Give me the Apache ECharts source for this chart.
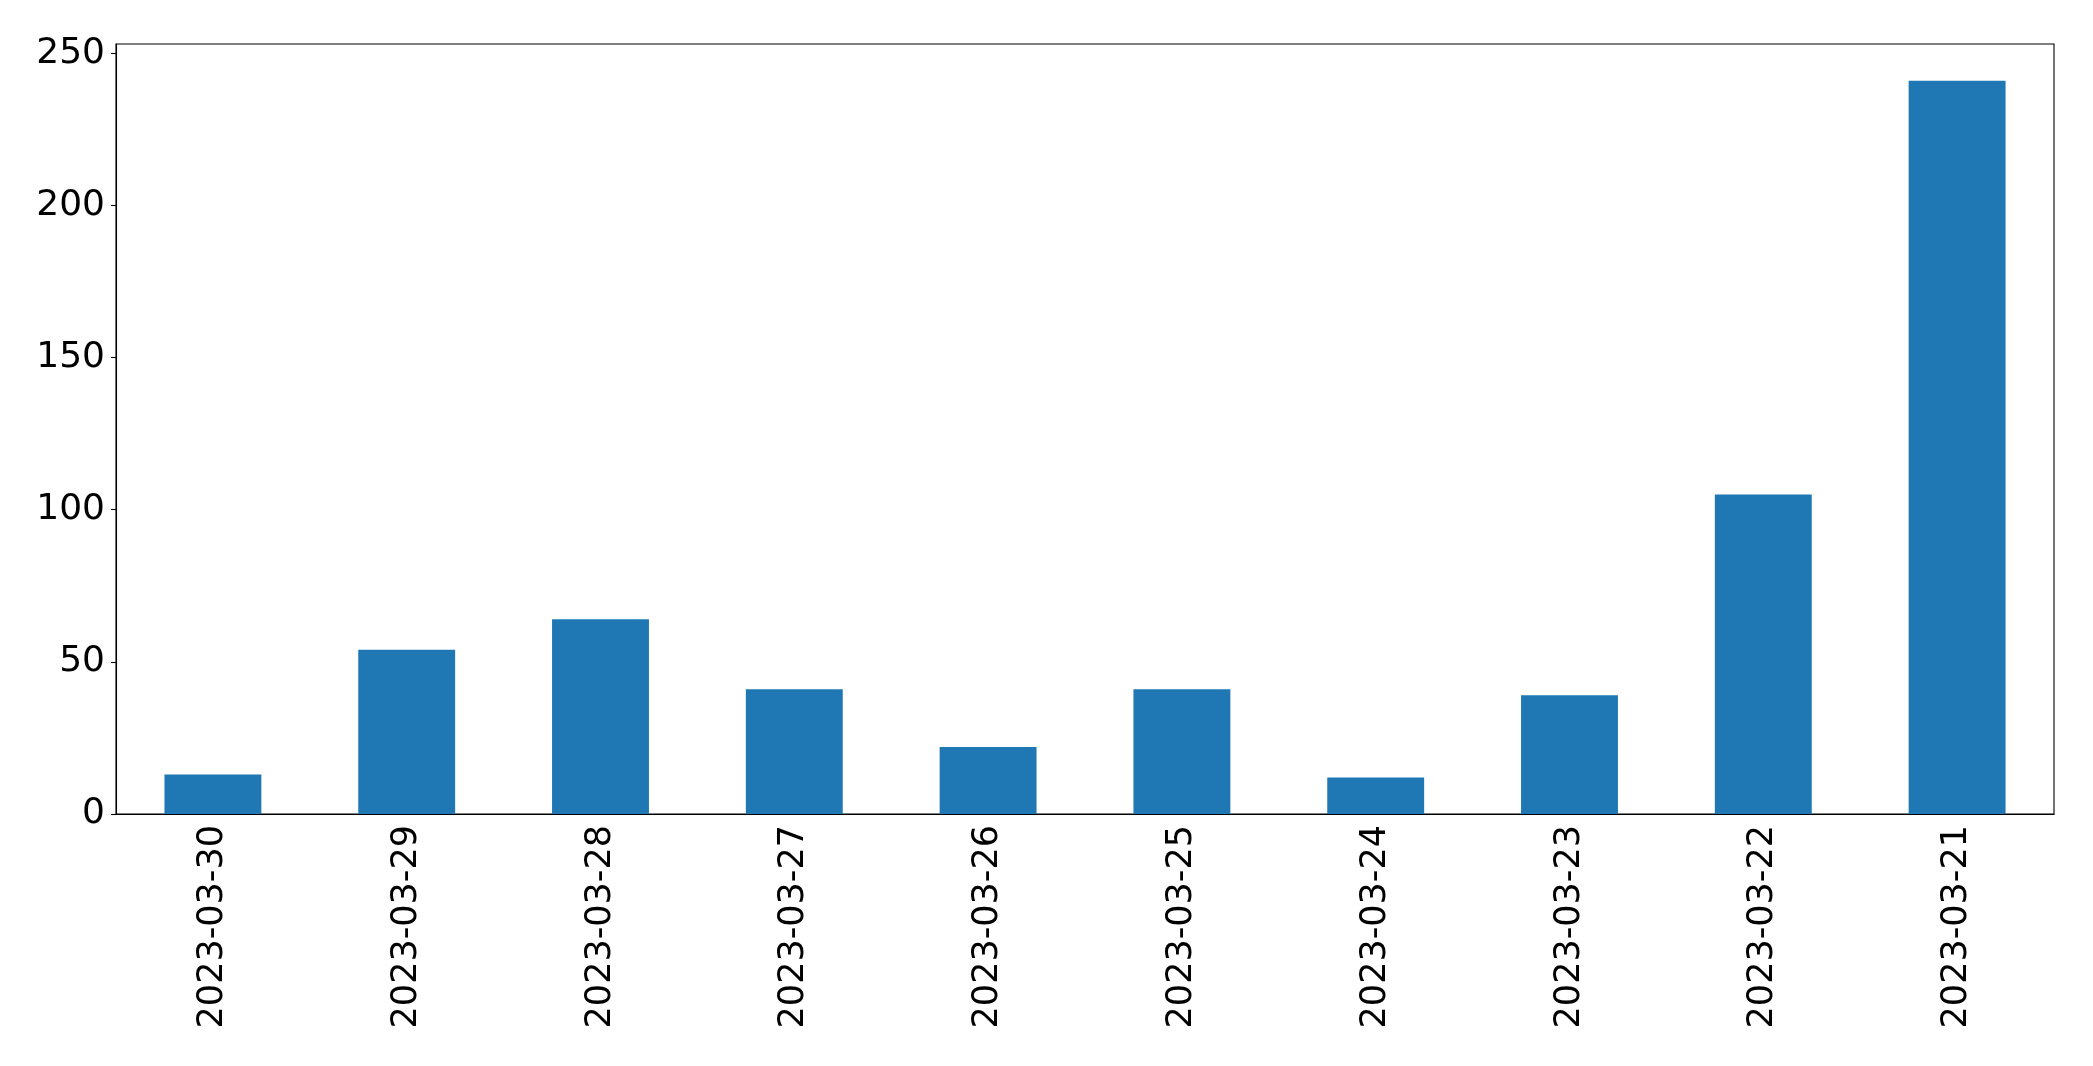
<!DOCTYPE html>
<html>
<head>
<meta charset="utf-8">
<script src="https://cdn.jsdelivr.net/npm/echarts@6/dist/echarts.min.js"></script>
<style>html,body{margin:0;padding:0;background:#fff;}#c{width:2093px;height:1066px;}</style>
</head>
<body>
<div id="c"></div>
<script>
const categories = ['2023-03-30','2023-03-29','2023-03-28','2023-03-27','2023-03-26','2023-03-25','2023-03-24','2023-03-23','2023-03-22','2023-03-21'];
const values = [13, 54, 64, 41, 22, 41, 12, 39, 105, 241];
const yTicks = [0, 50, 100, 150, 200, 250];

const chart = echarts.init(document.getElementById('c'), null, {renderer: 'canvas'});
chart.setOption({
  animation: false,
  backgroundColor: '#fff',
  grid: {left: 116, right: 39, top: 44, bottom: 252, show: true, borderColor: '#000', borderWidth: 1.1, backgroundColor: 'transparent'},
  xAxis: {
    type: 'category',
    data: categories,
    boundaryGap: true,
    axisLine: {lineStyle: {color: '#000', width: 1.1}},
    axisTick: {alignWithLabel: true, length: 5, lineStyle: {color: '#000', width: 1.1}},
    axisLabel: {rotate: 90, fontFamily: 'DejaVu Sans', fontSize: 35, color: '#000', margin: 11, interval: 0}
  },
  yAxis: {
    type: 'value',
    min: 0,
    max: 253.05,
    interval: 50,
    splitLine: {show: false},
    axisLine: {show: true, lineStyle: {color: '#000', width: 1.1}},
    axisTick: {show: true, length: 5, lineStyle: {color: '#000', width: 1.1}, customValues: yTicks},
    axisLabel: {fontFamily: 'DejaVu Sans', fontSize: 36, color: '#000', margin: 11, customValues: yTicks}
  },
  series: [{
    type: 'bar',
    data: values,
    barWidth: '50%',
    itemStyle: {color: '#1f77b4'}
  }]
});
</script>
</body>
</html>
